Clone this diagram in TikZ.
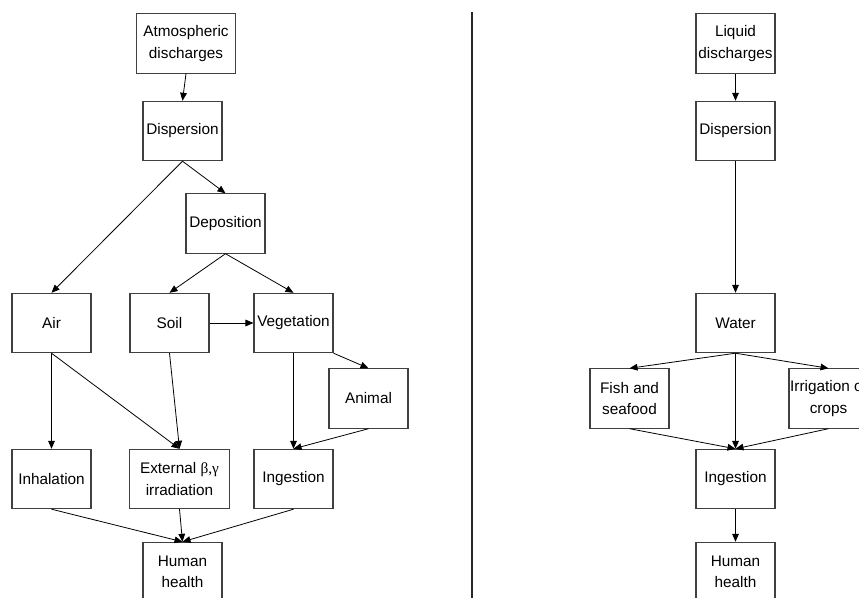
\documentclass[tikz,border=0pt]{standalone}
\usepackage{fontspec}
\setmainfont{Liberation Sans}
\newfontfamily\greekfont{Liberation Serif}
\usepackage{tikz}
\usetikzlibrary{arrows.meta}
\definecolor{edge}{HTML}{404040}
\definecolor{ink}{HTML}{000000}
\tikzset{
  box/.style={draw=edge, line width=0.8pt, minimum width=59.25pt, minimum height=44.5pt,
    inner sep=0pt, align=center, text=ink, font=\fontsize{11.5}{16}\selectfont},
  wide/.style={box, minimum width=74.5pt},
  flow/.style={draw=ink, line width=0.6pt, -{Triangle[length=6pt,width=5pt]}},
  split/.style={draw=ink!85, line width=1pt},
}

\begin{document}
\begin{tikzpicture}[x=0.75pt, y=-0.75pt]
  \useasboundingbox (0,0) rectangle (859,598);
  \clip (0,0) rectangle (859,598);
  % atmospheric pathway
  \node[wide] (atm)    at (186,43.5)   {Atmospheric\\discharges};
  \node[box]  (disp)   at (182.5,131)  {Dispersion};
  \node[box]  (depo)   at (225.5,223.5){Deposition};
  \node[box]  (air)    at (51.5,323)   {Air};
  \node[box]  (soil)   at (169.5,323)  {Soil};
  \node[box]  (veg)    at (293.5,323)  {Vegetation};
  \node[box]  (animal) at (368.5,398.5){Animal};
  \node[box]  (inhal)  at (51.5,479)   {Inhalation};
  \node[wide] (ext)    at (179.5,479)  {External {\greekfont β,γ}\\irradiation};
  \node[box]  (ingL)   at (293.5,479)  {Ingestion};
  \node[box]  (humL)   at (182.5,572)  {Human\\health};
  % liquid pathway
  \node[box]  (liq)    at (735.5,43.5) {Liquid\\discharges};
  \node[box]  (disp2)  at (735.5,131)  {Dispersion};
  \node[box]  (water)  at (735.5,323)  {Water};
  \node[box]  (fish)   at (629.5,398.5){Fish and\\seafood};
  \node[box]  (irr)    at (828.5,398.5){Irrigation of\\crops};
  \node[box]  (ingR)   at (735.5,479)  {Ingestion};
  \node[box]  (humR)   at (735.5,572)  {Human\\health};
  % divider
  \coordinate (top) at (472,12);
  \coordinate (bot) at (472,598);
  \draw[split] (top) -- (bot);
  \foreach \a/\b in {atm/disp, disp/air, disp/depo, depo/soil, depo/veg,
    air/inhal, air/ext, soil/ext, veg/ingL, animal/ingL,
    inhal/humL, ext/humL, ingL/humL,
    liq/disp2, disp2/water, water/fish, water/irr, water/ingR,
    fish/ingR, irr/ingR, ingR/humR}
    \draw[flow] (\a.south) -- (\b.north);
  \draw[flow] (soil.east) -- (veg.west);
  \draw[flow] (veg.south east) -- (animal.north);
\end{tikzpicture}
\end{document}
